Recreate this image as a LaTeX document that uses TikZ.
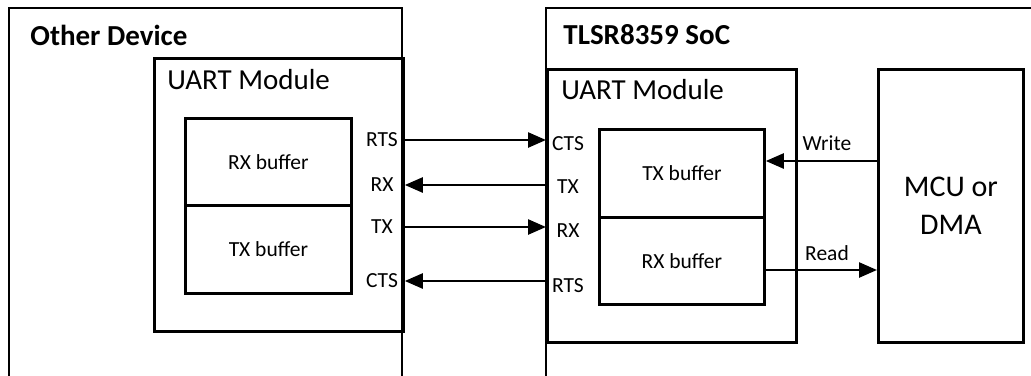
\documentclass[tikz,border=0pt]{standalone}
\usepackage{fontspec}
\setmainfont{Carlito}
\usetikzlibrary{arrows.meta}
\begin{document}
\begin{tikzpicture}[x=1pt,y=-1pt,line width=2.8pt]
\tikzset{
 frame/.style={draw, line width=2.8pt, inner sep=0pt, anchor=north west},
 titletext/.style={font=\fontsize{29}{34}\selectfont\bfseries, inner sep=0pt, anchor=west},
 modtext/.style={font=\fontsize{29}{34}\selectfont, inner sep=0pt, anchor=west},
 buftext/.style={font=\fontsize{21.5}{25}\selectfont},
 sig/.style={font=\fontsize{21.5}{25}\selectfont, inner sep=0pt},
 arr/.style={-{Triangle[length=18pt,width=15pt]}, line width=2.5pt},
}
\useasboundingbox (0,0) rectangle (1031,375);
% outer containers (open at the picture edges)
\draw (9,376) -- (9,8) -- (402,8) -- (402,376);
\draw (546,376) -- (546,8) -- (1032,8);
\node[titletext] (otitle) at (29,35) {Other Device};
\node[titletext] (stitle) at (562,35) {TLSR8359 SoC};
% other device UART module
\node[frame, minimum width=249pt, minimum height=273pt] (oum) at (153,57) {};
\node[modtext] (omlab) at (166,80) {UART Module};
\node[frame, buftext, minimum width=166pt, minimum height=87pt] (orx) at (184,117) {RX buffer};
\node[frame, buftext, minimum width=166pt, minimum height=88pt] (otx) at (184,204) {TX buffer};
% SoC UART module
\node[frame, minimum width=249pt, minimum height=273pt] (sum) at (546,68) {};
\node[modtext] (smlab) at (560,90) {UART Module};
\node[frame, buftext, minimum width=165pt, minimum height=88pt] (stx) at (598,128) {TX buffer};
\node[frame, buftext, minimum width=165pt, minimum height=87pt] (srx) at (598,216) {RX buffer};
\node[frame, align=center, font=\fontsize{30}{38}\selectfont, minimum width=145pt, minimum height=273pt] (mcu) at (877,68) {MCU or\\DMA};
% signal labels
\node[sig] (oRTS) at (382,140) {RTS};
\node[sig] (oRX) at (382,185) {RX};
\node[sig] (oTX) at (382,227) {TX};
\node[sig] (oCTS) at (382,281) {CTS};
\node[sig] (sCTS) at (568,144) {CTS};
\node[sig] (sTX) at (568,187) {TX};
\node[sig] (sRX) at (568,231) {RX};
\node[sig] (sRTS) at (568,286) {RTS};
% signal arrows
\draw[arr] (oum.east |- oRTS) -- (sum.west |- oRTS);
\draw[arr] (sum.west |- oRX) -- (oum.east |- oRX);
\draw[arr] (oum.east |- oTX) -- (sum.west |- oTX);
\draw[arr] (sum.west |- oCTS) -- (oum.east |- oCTS);
% write / read
\coordinate (wy) at (0,161);
\coordinate (ry) at (0,270);
\draw[arr] (mcu.west |- wy) -- (stx.east |- wy);
\draw[arr] (srx.east |- ry) -- (mcu.west |- ry);
\node[sig] (wlab) at (827,143) {Write};
\node[sig] (rlab) at (827,253) {Read};
\end{tikzpicture}
\end{document}
